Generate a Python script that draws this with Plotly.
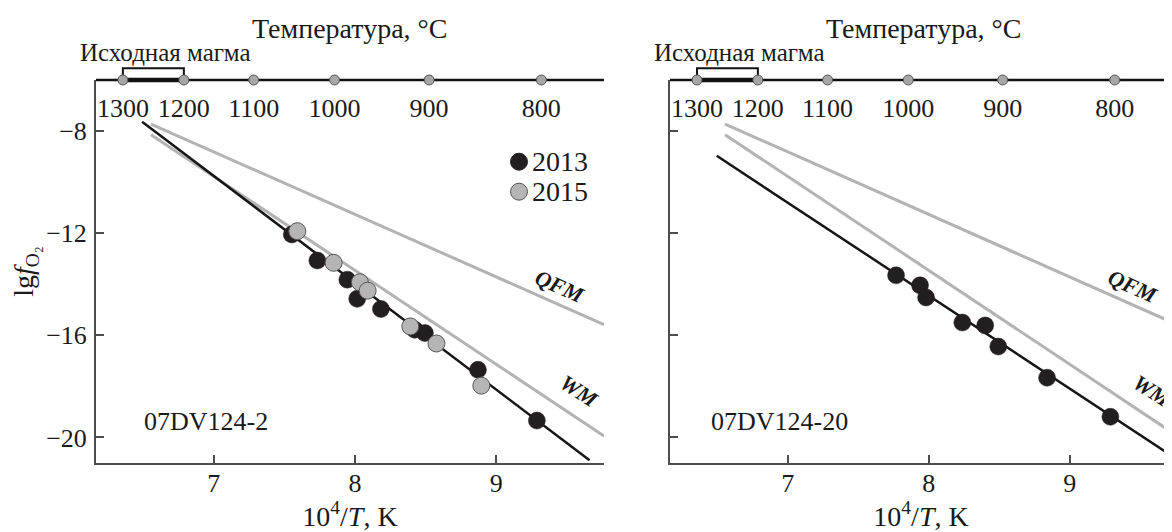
import plotly.graph_objects as go

# ---------------- data ----------------
# Left panel: sample 07DV124-2
x2013_left = [7.553, 7.734, 7.946, 8.016, 8.184, 8.424, 8.495, 8.871, 9.288]
y2013_left = [-12.05, -13.07, -13.82, -14.57, -14.97, -15.78, -15.91, -17.35, -19.34]
x2015_left = [7.592, 7.849, 8.035, 8.090, 8.392, 8.577, 8.895]
y2015_left = [-11.92, -13.16, -13.92, -14.25, -15.65, -16.32, -17.97]
fit_left_x = [6.493, 9.661]
fit_left_y = [-7.635, -20.89]

# Right panel: sample 07DV124-20
x2013_right = [7.769, 7.939, 7.982, 8.239, 8.401, 8.494, 8.840, 9.289]
y2013_right = [-13.65, -14.04, -14.52, -15.50, -15.61, -16.44, -17.66, -19.19]
fit_right_x = [6.497, 9.76]
fit_right_y = [-8.97, -20.85]

# Buffers
qfm_x = [6.556, 9.763]
qfm_y = [-7.725, -15.58]
wm_x = [6.556, 9.763]
wm_y = [-8.14, -19.94]

# Temperature scale (deg C) on the top edge
temps_C = [1300, 1200, 1100, 1000, 900, 800]
parent_magma_C = [1300, 1200]

y_ticks = [-8, -12, -16, -20]
x_ticks = [7, 8, 9]
samples = ["07DV124-2", "07DV124-20"]

# ---------------- helpers ----------------
SERIF = "Liberation Serif"
AX = "#4d4d4d"
BLACK = "#231f20"
GREY = "#b5b5b5"
LINE_GREY = "#b3b3b3"
TXT = "#1a1a1a"

def inv_T(tc):
    return 1e4 / (tc + 273.0)

temp_x = [inv_T(t) for t in temps_C]
temp_lbl = [str(t) for t in temps_C]
magma_x = [inv_T(t) for t in parent_magma_C]

# the page body has an 8px margin, so the figure is offset by 8px
W, H = 1164, 524
ML, MR, MT, MB = 88, 0, 72, 69

fig = go.Figure()

panels = [
    dict(xa="x", ya="y", pts2013=(x2013_left, y2013_left), pts2015=(x2015_left, y2015_left),
         fit=(fit_left_x, fit_left_y), label=samples[0]),
    dict(xa="x2", ya="y2", pts2013=(x2013_right, y2013_right), pts2015=None,
         fit=(fit_right_x, fit_right_y), label=samples[1]),
]

for p in panels:
    xa, ya = p["xa"], p["ya"]
    fig.add_trace(go.Scatter(x=qfm_x, y=qfm_y, mode="lines", xaxis=xa, yaxis=ya,
                             line=dict(color=LINE_GREY, width=3), showlegend=False, hoverinfo="skip"))
    fig.add_trace(go.Scatter(x=wm_x, y=wm_y, mode="lines", xaxis=xa, yaxis=ya,
                             line=dict(color=LINE_GREY, width=3), showlegend=False, hoverinfo="skip"))
    fig.add_trace(go.Scatter(x=p["fit"][0], y=p["fit"][1], mode="lines", xaxis=xa, yaxis=ya,
                             line=dict(color="#151515", width=2.5), showlegend=False, hoverinfo="skip"))
    fig.add_trace(go.Scatter(x=p["pts2013"][0], y=p["pts2013"][1], mode="markers", xaxis=xa, yaxis=ya,
                             name="2013", showlegend=False,
                             marker=dict(size=17, color=BLACK, line=dict(color=BLACK, width=0.5))))
    if p["pts2015"] is not None:
        fig.add_trace(go.Scatter(x=p["pts2015"][0], y=p["pts2015"][1], mode="markers", xaxis=xa, yaxis=ya,
                                 name="2015", showlegend=False,
                                 marker=dict(size=17, color=GREY, line=dict(color="#555555", width=1))))
    # temperature scale: circles on the top edge
    fig.add_trace(go.Scatter(x=temp_x, y=[-6] * len(temp_x), mode="markers", xaxis=xa, yaxis=ya,
                             cliponaxis=False, showlegend=False, hoverinfo="skip",
                             marker=dict(size=10, color="#a6a6a6", line=dict(color="#555555", width=1))))
    fig.add_trace(go.Scatter(x=temp_x, y=[-7.2] * len(temp_x), mode="text", xaxis=xa, yaxis=ya,
                             text=temp_lbl, textposition="middle center", cliponaxis=False,
                             textfont=dict(family=SERIF, size=26, color=TXT),
                             showlegend=False, hoverinfo="skip"))

    xd = xa + " domain"
    yd = ya + " domain"
    # top temperature axis line
    fig.add_shape(type="line", xref=xd, yref=yd, x0=0, x1=1, y0=1, y1=1, layer="below",
                  line=dict(color="#111111", width=2.5))
    # parent magma bracket
    fig.add_shape(type="line", xref=xa, yref=yd, x0=magma_x[0], x1=magma_x[1], y0=1, y1=1, layer="below",
                  line=dict(color="#111111", width=4.5))
    fig.add_shape(type="path", xref=xa, yref=yd, layer="below",
                  path=f"M {magma_x[0]},1 L {magma_x[0]},1.031 L {magma_x[1]},1.031 L {magma_x[1]},1",
                  line=dict(color="#111111", width=2))
    # texts
    fig.add_annotation(xref=xa, yref=yd, x=7.965, y=1.134, yanchor="middle", xanchor="center",
                       text="Температура, °C", showarrow=False,
                       font=dict(family=SERIF, size=28, color=TXT))
    fig.add_annotation(xref=xa, yref=yd, x=6.66, y=1.073, yanchor="middle", xanchor="center",
                       text="Исходная магма", showarrow=False,
                       font=dict(family=SERIF, size=25, color=TXT))
    fig.add_annotation(xref=xa, yref=ya, x=6.945, y=-19.37, yanchor="middle", xanchor="center",
                       text=p["label"], showarrow=False,
                       font=dict(family=SERIF, size=26, color=TXT))
    fig.add_annotation(xref=xa, yref=ya, x=9.45, y=-14.1, text="<b><i>QFM</i></b>", showarrow=False,
                       textangle=24, font=dict(family=SERIF, size=22, color=TXT))
    fig.add_annotation(xref=xa, yref=ya, x=9.59, y=-18.2, text="<b><i>WM</i></b>", showarrow=False,
                       textangle=33, font=dict(family=SERIF, size=22, color=TXT))

# manual legend (left panel); positions given in screen pixels
PH = H - MT - MB
PW = W - ML - MR
def px_x(px):
    return (px - 8 - ML) / PW
def px_y(py):
    return (H - MB - (py - 8)) / PH

legend_items = [("2013", BLACK, BLACK, 161.7), ("2015", GREY, "#555555", 191.7)]
for name, fill, edge, py in legend_items:
    fig.add_shape(type="circle", xref="paper", yref="paper", xsizemode="pixel", ysizemode="pixel",
                  xanchor=px_x(519), yanchor=px_y(py), x0=-8.5, x1=8.5, y0=-8.5, y1=8.5,
                  fillcolor=fill, line=dict(color=edge, width=1), layer="above")
    fig.add_annotation(xref="paper", yref="paper", x=px_x(530), y=px_y(py), text=name, showarrow=False,
                       xanchor="left", yanchor="middle", font=dict(family=SERIF, size=28, color=TXT))

axis_common = dict(showline=True, linecolor=AX, linewidth=2, ticks="inside", ticklen=8, tickwidth=2,
                   tickcolor=AX, showgrid=False, zeroline=False, mirror=False,
                   tickfont=dict(family=SERIF, size=26, color=TXT))

xtitle = dict(text="10<sup>4</sup>/<i>T</i>, K", font=dict(family=SERIF, size=28, color=TXT), standoff=0)

fig.update_layout(
    width=W, height=H,
    margin=dict(l=ML, r=MR, t=MT, b=MB),
    paper_bgcolor="white", plot_bgcolor="white",
    showlegend=False,
    xaxis=dict(domain=[0, 0.4721], range=[6.167, 9.763], tickvals=x_ticks, anchor="y",
               ticklabelstandoff=-4, title=xtitle, **axis_common),
    xaxis2=dict(domain=[0.5335, 1.0], range=[6.166, 9.726], tickvals=x_ticks, anchor="y2",
                ticklabelstandoff=-4, title=xtitle, **axis_common),
    yaxis=dict(range=[-21, -6], tickvals=y_ticks, anchor="x", ticklabelstandoff=2,
               title=dict(text="lg<i>f</i><sub>O₂</sub>", font=dict(family=SERIF, size=28, color=TXT),
                          standoff=6),
               **axis_common),
    yaxis2=dict(range=[-21, -6], tickvals=y_ticks, anchor="x2", showticklabels=False, **axis_common),
)

fig.write_html("out.html")
